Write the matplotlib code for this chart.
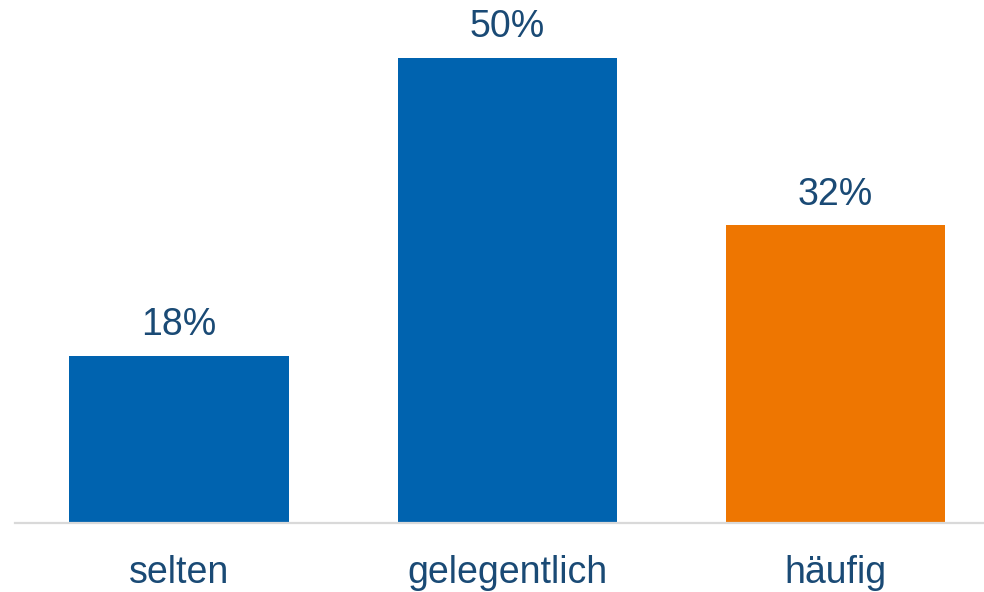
import matplotlib
matplotlib.use("Agg")
import matplotlib.pyplot as plt

categories = ["selten", "gelegentlich", "häufig"]
values = [18, 50, 32]
labels = ["18%", "50%", "32%"]
colors = ["#0063AF", "#0063AF", "#EE7601"]

plt.rcParams['font.family'] = ['Liberation Sans', 'DejaVu Sans']
W, H = 984, 592
fig = plt.figure(figsize=(W / 100, H / 100), dpi=100)
ax = fig.add_axes([15 / W, 69 / H, 1 - 15 / W, 465 / H])

x = list(range(len(categories)))
bars = ax.bar(x, values, width=0.668, color=colors, zorder=2)
ax.set_xlim(-0.5, (984 - 179.5) / 328)
ax.set_ylim(0, 50)

txt_color = "#1A4A75"
for xi, v, lab in zip(x, values, labels):
    ax.annotate(lab, (xi, v), xytext=(0, 15), textcoords="offset points",
                ha="center", va="baseline", fontsize=27, color=txt_color)

for xi, c in zip(x, categories):
    ax.annotate(c, (xi, 0), xytext=(0, -43), textcoords="offset points",
                ha="center", va="baseline", fontsize=27, color=txt_color,
                annotation_clip=False)

for s in ["top", "right", "left"]:
    ax.spines[s].set_visible(False)
ax.spines["bottom"].set_color("#D9D9D9")
ax.spines["bottom"].set_linewidth(1.6)
ax.set_xticks([])
ax.set_yticks([])

fig.savefig("out.png", dpi=100)
